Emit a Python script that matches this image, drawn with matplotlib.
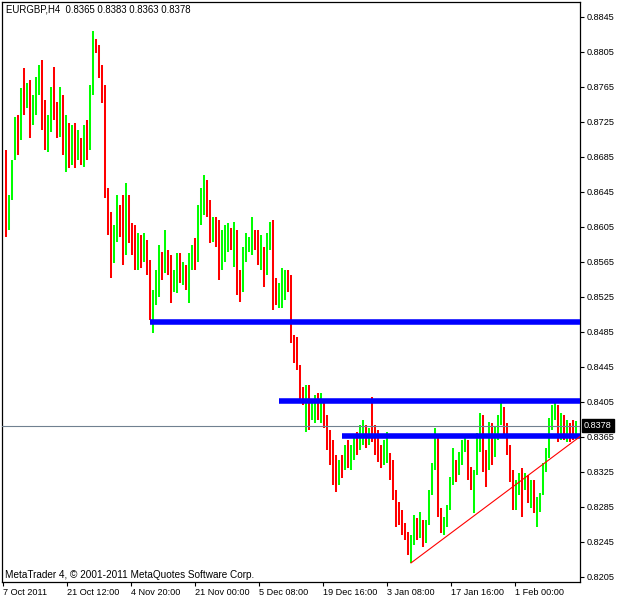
import matplotlib
matplotlib.use("Agg")
import matplotlib.pyplot as plt
import matplotlib.transforms as mtransforms
import numpy as np

first_open = 8682
highs = [8693, 8642, 8682, 8731, 8733, 8764, 8787, 8770, 8773, 8756,
         8776, 8790, 8796, 8750, 8733, 8765, 8788, 8748, 8765, 8756,
         8733, 8724, 8722, 8724, 8716, 8707, 8722, 8727, 8767, 8829,
         8820, 8813, 8790, 8767, 8650, 8622, 8607, 8642, 8630, 8642,
         8655, 8642, 8610, 8607, 8598, 8596, 8598, 8590, 8567, 8533,
         8556, 8584, 8576, 8602, 8579, 8573, 8556, 8575, 8575, 8565,
         8562, 8575, 8584, 8592, 8630, 8650, 8664, 8659, 8636, 8616,
         8616, 8613, 8602, 8607, 8610, 8604, 8611, 8602, 8556, 8582,
         8598, 8594, 8616, 8602, 8602, 8596, 8582, 8598, 8611, 8613,
         8547, 8541, 8558, 8556, 8556, 8550, 8482, 8479, 8447, 8422,
         8424, 8424, 8405, 8413, 8415, 8415, 8407, 8390, 8373, 8362,
         8344, 8339, 8344, 8356, 8362, 8356, 8367, 8371, 8379, 8384,
         8379, 8375, 8411, 8379, 8373, 8356, 8362, 8371, 8347, 8339,
         8304, 8291, 8282, 8267, 8256, 8253, 8276, 8272, 8279, 8270,
         8270, 8304, 8335, 8375, 8367, 8284, 8274, 8287, 8319, 8352,
         8339, 8348, 8362, 8367, 8362, 8331, 8327, 8370, 8392, 8390,
         8350, 8382, 8381, 8376, 8390, 8405, 8399, 8381, 8356, 8327,
         8316, 8324, 8330, 8324, 8322, 8316, 8316, 8296, 8301, 8335,
         8352, 8387, 8402, 8405, 8402, 8392, 8390, 8384, 8381, 8384,
         8383]
lows = [8594, 8602, 8636, 8682, 8687, 8704, 8733, 8741, 8707, 8722,
        8733, 8756, 8716, 8693, 8691, 8714, 8727, 8707, 8708, 8687,
        8668, 8672, 8676, 8672, 8682, 8676, 8674, 8682, 8693, 8756,
        8804, 8775, 8747, 8638, 8596, 8547, 8564, 8588, 8594, 8562,
        8573, 8587, 8573, 8556, 8556, 8558, 8565, 8550, 8499, 8484,
        8516, 8525, 8544, 8552, 8550, 8518, 8531, 8530, 8541, 8539,
        8533, 8518, 8556, 8556, 8565, 8607, 8619, 8616, 8587, 8588,
        8582, 8544, 8556, 8565, 8576, 8579, 8559, 8527, 8519, 8531,
        8565, 8576, 8573, 8579, 8562, 8556, 8536, 8550, 8579, 8510,
        8516, 8512, 8512, 8522, 8531, 8472, 8450, 8442, 8407, 8402,
        8371, 8373, 8384, 8381, 8384, 8381, 8375, 8350, 8333, 8310,
        8302, 8310, 8318, 8327, 8330, 8327, 8339, 8344, 8350, 8356,
        8352, 8356, 8359, 8344, 8336, 8330, 8333, 8335, 8316, 8293,
        8262, 8264, 8253, 8247, 8230, 8221, 8242, 8247, 8250, 8239,
        8244, 8264, 8299, 8327, 8274, 8255, 8253, 8262, 8282, 8310,
        8314, 8322, 8333, 8348, 8316, 8304, 8278, 8322, 8348, 8325,
        8308, 8327, 8333, 8342, 8362, 8379, 8365, 8344, 8314, 8282,
        8282, 8299, 8274, 8304, 8290, 8284, 8278, 8262, 8279, 8299,
        8325, 8341, 8373, 8384, 8359, 8362, 8362, 8359, 8359, 8362,
        8363]
closes = [8607, 8636, 8676, 8716, 8704, 8756, 8750, 8762, 8722, 8750,
          8767, 8779, 8739, 8704, 8727, 8756, 8739, 8727, 8750, 8699,
          8716, 8687, 8710, 8693, 8704, 8687, 8710, 8693, 8756, 8819,
          8813, 8784, 8762, 8659, 8607, 8579, 8596, 8630, 8607, 8573,
          8642, 8596, 8590, 8584, 8590, 8573, 8590, 8562, 8510, 8522,
          8544, 8567, 8556, 8579, 8567, 8533, 8544, 8567, 8550, 8556,
          8544, 8567, 8579, 8567, 8619, 8642, 8653, 8630, 8596, 8607,
          8602, 8562, 8584, 8590, 8596, 8590, 8602, 8539, 8533, 8567,
          8584, 8588, 8596, 8590, 8573, 8584, 8550, 8590, 8602, 8533,
          8527, 8533, 8539, 8544, 8539, 8482, 8470, 8447, 8413, 8407,
          8413, 8390, 8396, 8402, 8390, 8402, 8384, 8362, 8344, 8327,
          8316, 8333, 8327, 8350, 8344, 8350, 8362, 8356, 8371, 8375,
          8362, 8371, 8364, 8356, 8350, 8344, 8350, 8356, 8327, 8304,
          8282, 8276, 8261, 8256, 8242, 8247, 8264, 8259, 8270, 8247,
          8264, 8299, 8330, 8362, 8282, 8264, 8268, 8282, 8310, 8339,
          8327, 8339, 8356, 8362, 8327, 8314, 8322, 8362, 8384, 8344,
          8327, 8373, 8350, 8367, 8384, 8396, 8373, 8356, 8327, 8293,
          8304, 8316, 8310, 8318, 8299, 8304, 8287, 8290, 8295, 8327,
          8344, 8379, 8394, 8396, 8373, 8384, 8367, 8379, 8367, 8365,
          8378]

# horizontal levels drawn on the chart (price, first bar)
level_prices = [0.8496, 0.8406, 0.8366]
level_start = [48, 91, 112]
bid_price = 0.8378
# trend line anchors (bar, price)
trend_bars = [135, 190]
trend_prices = [0.8221, 0.8362]

date_labels = ["7 Oct 2011", "21 Oct 12:00", "4 Nov 20:00", "21 Nov 00:00",
               "5 Dec 08:00", "19 Dec 16:00", "3 Jan 08:00", "17 Jan 16:00",
               "1 Feb 00:00"]
price_ticks = ["0.8845", "0.8805", "0.8765", "0.8725", "0.8685", "0.8645",
               "0.8605", "0.8565", "0.8525", "0.8485", "0.8445", "0.8405",
               "0.8365", "0.8325", "0.8285", "0.8245", "0.8205"]
header = "EURGBP,H4  0.8365 0.8383 0.8363 0.8378"
footer = "MetaTrader 4, \u00a9 2001-2011 MetaQuotes Software Corp."

plt.rcParams['font.family'] = ['Liberation Sans', 'DejaVu Sans']
FS = 6.6
BULL, BEAR = '#00ff00', '#ff0000'

H = np.array(highs) / 10000
L = np.array(lows) / 10000
C = np.array(closes) / 10000
O = np.concatenate([[first_open / 10000], C[:-1]])
x = np.arange(len(C))

fig = plt.figure(figsize=(6.2, 6.0), dpi=100)
ax = fig.add_axes([2 / 620, 18 / 600, 578 / 620, 580 / 600])
xmin, xmax = -1.33, 191.33
ax.set_xlim(xmin, xmax)
ax.set_ylim(0.81992, 0.88621)

# bars
colors = np.where(C >= O, BULL, BEAR)
ax.vlines(x, L, H, colors=colors, linewidth=1.45, zorder=2)

# bid line
ax.axhline(bid_price, color='#708090', linewidth=0.8, zorder=3)

# support / resistance levels
for p, s in zip(level_prices, level_start):
    ax.hlines(p, s, xmax, color='#0000ff', linewidth=4.0, zorder=4)

# trend line as a ray to the right edge
slope = (trend_prices[1] - trend_prices[0]) / (trend_bars[1] - trend_bars[0])
y_end = trend_prices[0] + slope * (xmax - trend_bars[0])
ax.plot([trend_bars[0], xmax], [trend_prices[0], y_end], color='#ff0000',
        linewidth=0.8, zorder=5)

# axes look
for sp in ax.spines.values():
    sp.set_color('black')
    sp.set_linewidth(0.9)

ax.yaxis.tick_right()
ax.set_yticks([float(t) for t in price_ticks])
ax.set_yticklabels(price_ticks)
tick_bars = np.arange(len(date_labels)) * 21.33 - 1.1
ax.set_xticks(tick_bars)
ax.set_xticklabels(date_labels)
for lbl in ax.get_xticklabels():
    lbl.set_ha('left')
ax.tick_params(axis='both', direction='out', length=3, width=0.8,
               labelsize=FS, colors='black', pad=2)
ax.tick_params(axis='x', pad=1.5)

# texts
fig.text(6 / 620, 1 - 10 / 600, header, fontsize=6.9, va='center', ha='left')
fig.text(5 / 620, 1 - 575 / 600, footer, fontsize=7.2, va='center', ha='left')

# current price tag on the axis
trans = mtransforms.blended_transform_factory(fig.transFigure, ax.transData)
ax.text(584 / 620, bid_price, "0.8378", transform=trans, fontsize=FS,
        color='white', va='center', ha='left', zorder=6,
        bbox=dict(boxstyle='square,pad=0.2', fc='black', ec='black'))

fig.savefig("out.png", dpi=100)
